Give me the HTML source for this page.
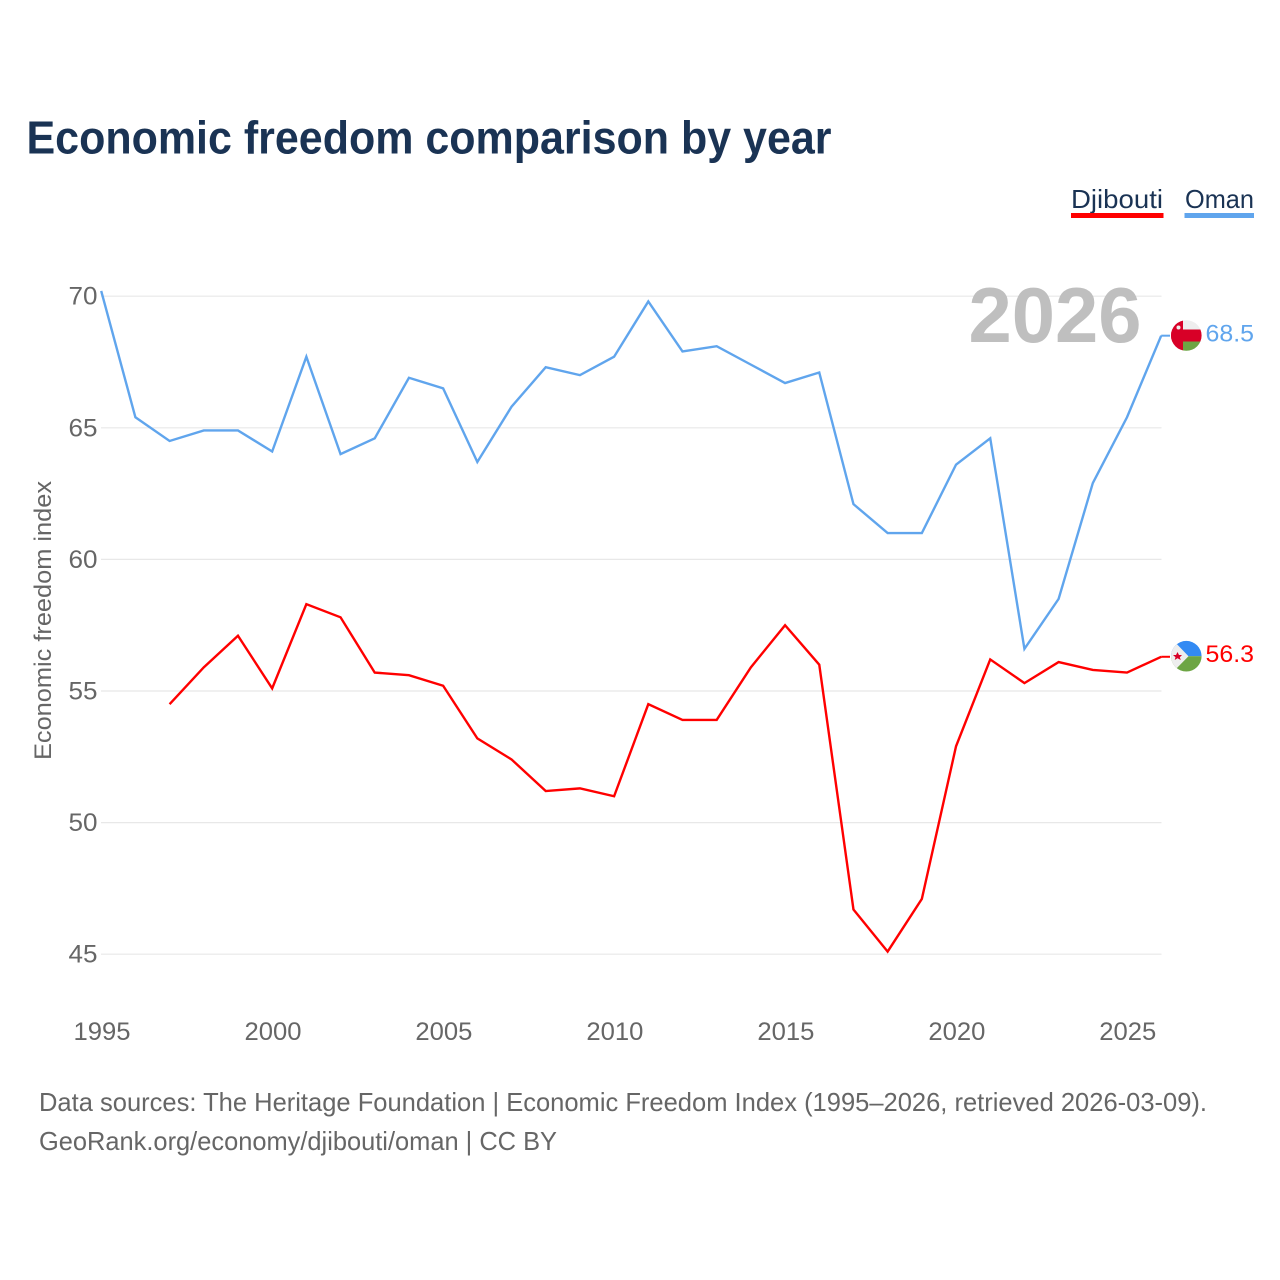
<!DOCTYPE html>
<html><head><meta charset="utf-8"><title>Economic freedom comparison by year</title>
<style>
html,body{margin:0;padding:0;background:#fff}
svg{display:block}
text{font-family:"Liberation Sans",sans-serif}
.tick{font-size:25px;fill:#666}
</style></head>
<body>
<svg id="chart" width="1280" height="1280" viewBox="0 0 1280 1280" xmlns="http://www.w3.org/2000/svg">
<defs>
<clipPath id="clip-oman"><circle cx="1186.300" cy="335.500" r="15.300"/></clipPath>
<clipPath id="clip-djibouti"><circle cx="1186.300" cy="656.200" r="15.300"/></clipPath>
</defs>
<text x="26.500" y="153.300" font-size="46" font-weight="700" fill="#1a3354" textLength="805" lengthAdjust="spacingAndGlyphs">Economic freedom comparison by year</text>
<g id="legend">
<g>
<text x="1071" y="208" font-size="26" fill="#1a3354" textLength="92" lengthAdjust="spacingAndGlyphs">Djibouti</text>
<rect x="1071" y="213" width="92.500" height="5" fill="#ff0000"/>
</g>
<g>
<text x="1185" y="208" font-size="26" fill="#1a3354" textLength="69" lengthAdjust="spacingAndGlyphs">Oman</text>
<rect x="1184.500" y="213" width="69.500" height="5" fill="#60a5ed"/>
</g>
</g>
<g id="grid"></g>
<g id="yticks"></g>
<g id="xticks"></g>
<text transform="translate(51,760) rotate(-90)" font-size="24" fill="#666" textLength="279" lengthAdjust="spacingAndGlyphs">Economic freedom index</text>
<text x="968.500" y="342" font-size="78" font-weight="700" fill="#bfbfbf" textLength="173" lengthAdjust="spacingAndGlyphs">2026</text>
<g id="series"></g>
<g clip-path="url(#clip-oman)">
<rect x="1171" y="320" width="31" height="31" fill="#eeeeee"/>
<rect x="1171" y="329.500" width="31" height="12" fill="#d80027"/>
<rect x="1183" y="341.500" width="19" height="10" fill="#6da544"/>
<rect x="1171" y="320" width="12" height="31" fill="#d80027"/>
<circle cx="1178.500" cy="327.500" r="2" fill="#eeeeee"/>
</g>
<g clip-path="url(#clip-djibouti)">
<rect x="1171" y="640" width="31" height="16.200" fill="#338af3"/>
<rect x="1171" y="656.200" width="31" height="16" fill="#6da544"/>
<polygon points="1171,638 1188.500,656.200 1171,674" fill="#eeeeee"/>
<polygon points="1177.500,652 1179,655 1182,655 1179.800,657.200 1180.800,660 1177.500,658.300 1174.700,660 1175.500,657.200 1173,655 1176,655" fill="#d80027"/>
</g>
<text x="1205.500" y="341.500" font-size="24.500" fill="#60a5ed" textLength="48.500" lengthAdjust="spacingAndGlyphs">68.5</text>
<text x="1205.500" y="662" font-size="24.500" fill="#ff0000" textLength="48.500" lengthAdjust="spacingAndGlyphs">56.3</text>
<text x="39" y="1111" font-size="26" fill="#666" textLength="1168" lengthAdjust="spacingAndGlyphs">Data sources: The Heritage Foundation | Economic Freedom Index (1995–2026, retrieved 2026-03-09).</text>
<text x="39" y="1150" font-size="26" fill="#666" textLength="518" lengthAdjust="spacingAndGlyphs">GeoRank.org/economy/djibouti/oman | CC BY</text>
</svg>
<script>
const years = [1995,1996,1997,1998,1999,2000,2001,2002,2003,2004,2005,2006,2007,2008,2009,2010,2011,2012,2013,2014,2015,2016,2017,2018,2019,2020,2021,2022,2023,2024,2025,2026];
const omanValues = [70.2,65.4,64.5,64.9,64.9,64.1,67.7,64.0,64.6,66.9,66.5,63.7,65.8,67.3,67.0,67.7,69.8,67.9,68.1,67.4,66.7,67.1,62.1,61.0,61.0,63.6,64.6,56.6,58.5,62.9,65.4,68.5];
const djiboutiValues = [null,null,54.5,55.9,57.1,55.1,58.3,57.8,55.7,55.6,55.2,53.2,52.4,51.2,51.3,51.0,54.5,53.9,53.9,55.9,57.5,56.0,46.7,45.1,47.1,52.9,56.2,55.3,56.1,55.8,55.7,56.3];
const yTickLabels = [45,50,55,60,65,70];
const xTickLabels = [1995,2000,2005,2010,2015,2020,2025];

const NS = 'http://www.w3.org/2000/svg';
function xScale(year) { return 101.2 + (year - 1995) * (1060 / 31); }
function yScale(value) { return 954.2 - (value - 45) * (658 / 25); }
function labelX(year) { return 102 + (year - 1995) * (1060 / 31); }
function make(tag, parent, attrs) {
  const el = document.createElementNS(NS, tag);
  for (const k in attrs) el.setAttribute(k, attrs[k]);
  parent.appendChild(el);
  return el;
}
const grid = document.getElementById('grid');
const yticks = document.getElementById('yticks');
const xticks = document.getElementById('xticks');
const series = document.getElementById('series');

yTickLabels.forEach(function (v) {
  const line = make('line', grid, {x1: 101, x2: 1161.5, y1: yScale(v), y2: yScale(v), stroke: '#e8e8e8', 'stroke-width': 1.2});
  
  
  const t = make('text', yticks, {x: 97.5, y: yScale(v) + 8.5, 'text-anchor': 'end', class: 'tick', textLength: 29, lengthAdjust: 'spacingAndGlyphs'});
  t.textContent = v;
  
  
});
xTickLabels.forEach(function (y) {
  const t = make('text', xticks, {x: labelX(y), y: 1040, 'text-anchor': 'middle', class: 'tick', textLength: 57, lengthAdjust: 'spacingAndGlyphs'});
  t.textContent = y;
  
  
});
function pathFor(values) {
  const pts = [];
  values.forEach(function (v, i) {
    if (v !== null) pts.push(xScale(years[i]).toFixed(2) + ',' + yScale(v).toFixed(2));
  });
  return 'M' + pts.join('L');
}
const omanLine = make('path', series, {d: pathFor(omanValues), fill: 'none', stroke: '#60a5ed', 'stroke-width': 2.4, 'stroke-linejoin': 'miter'});


const djiboutiLine = make('path', series, {d: pathFor(djiboutiValues), fill: 'none', stroke: '#ff0000', 'stroke-width': 2.4, 'stroke-linejoin': 'miter'});


const omanLeader = make('line', series, {x1: xScale(2026), x2: 1170, y1: yScale(omanValues[31]), y2: yScale(omanValues[31]), stroke: '#60a5ed', 'stroke-width': 2});


const djiboutiLeader = make('line', series, {x1: xScale(2026), x2: 1170, y1: yScale(djiboutiValues[31]), y2: yScale(djiboutiValues[31]), stroke: '#ff0000', 'stroke-width': 2});


</script>
</body></html>
